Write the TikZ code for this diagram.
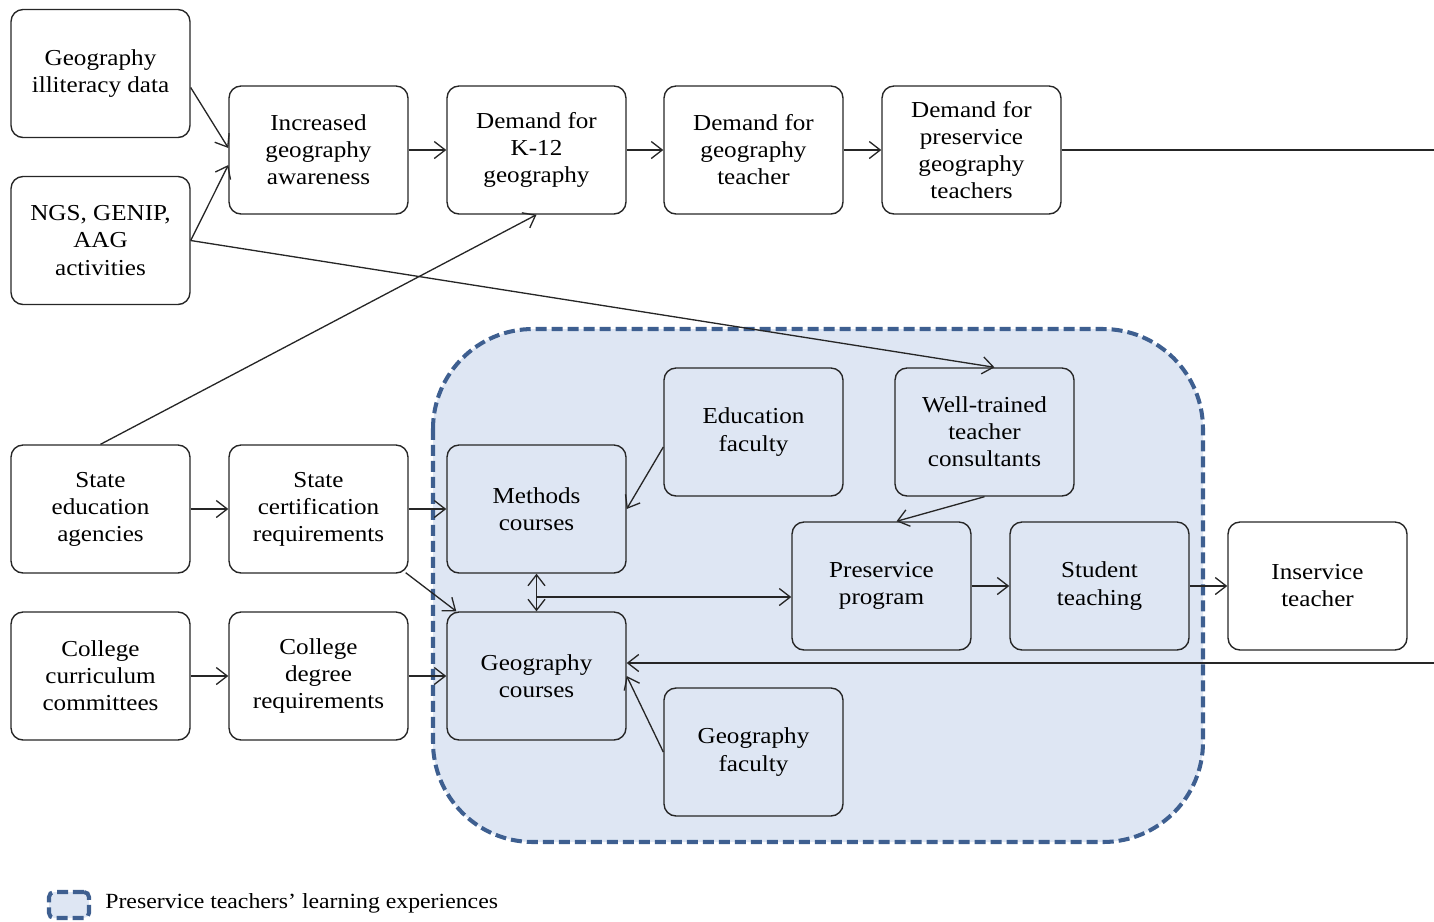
\documentclass[tikz,border=0pt]{standalone}
\usepackage{fontspec}
\setmainfont{Liberation Serif}[FakeStretch=1.1]
\usetikzlibrary{arrows.meta,calc}
\definecolor{regfill}{HTML}{DEE6F3}
\definecolor{regdraw}{HTML}{3E5F90}
\definecolor{ink}{HTML}{262626}
\begin{document}
\begin{tikzpicture}[x=0.02cm,y=-0.02cm,
 box/.style={draw=ink, line width=0.8pt, rounded corners=0.24cm, minimum width=3.58cm, minimum height=2.56cm, align=center, inner sep=2pt, font=\fontsize{13}{15.4}\selectfont},
 arr/.style={-{Straight Barb[length=0.22cm,width=0.34cm]}, line width=0.75pt, draw=ink},
 darr/.style={{Straight Barb[length=0.22cm,width=0.34cm]}-{Straight Barb[length=0.22cm,width=0.34cm]}, line width=0.75pt, draw=ink},
 ln/.style={line width=0.75pt, draw=ink},
 region/.style={draw=regdraw, fill=regfill, line width=2.3pt, dash pattern=on 0.22cm off 0.1cm}]
\useasboundingbox (0,0) rectangle (1434,921);
% region
\draw[region, rounded corners=2cm] (433,329) rectangle (1203,842);
% nodes
\node[box] (gi) at (100.5,73.5) {Geography\\illiteracy data};
\node[box] (ngs) at (100.5,240.5) {NGS, GENIP,\\AAG\\activities};
\node[box] (inc) at (318.5,150) {Increased\\geography\\awareness};
\node[box] (k12) at (536.5,150) {Demand for\\K-12\\geography};
\node[box] (dt) at (753.5,150) {Demand for\\geography\\teacher};
\node[box] (dp) at (971.5,150) {Demand for\\preservice\\geography\\teachers};
\node[box] (ef) at (753.5,432) {Education\\faculty};
\node[box] (wt) at (984.5,432) {Well-trained\\teacher\\consultants};
\node[box] (se) at (100.5,509) {State\\education\\agencies};
\node[box] (sc) at (318.5,509) {State\\certification\\requirements};
\node[box] (mc) at (536.5,509) {Methods\\courses};
\node[box] (pp) at (881.5,586) {Preservice\\program};
\node[box] (st) at (1099.5,586) {Student\\teaching};
\node[box] (it) at (1317.5,586) {Inservice\\teacher};
\node[box] (cc) at (100.5,676) {College\\curriculum\\committees};
\node[box] (cd) at (318.5,676) {College\\degree\\requirements};
\node[box] (gc) at (536.5,676) {Geography\\courses};
\node[box] (gf) at (753.5,752) {Geography\\faculty};
\coordinate (outA) at (1434,150);
\coordinate (outB) at (1434,663);
\coordinate (mid) at (536.5,597);
% connectors
\draw[arr] ($(gi.east)+(0,14)$) -- ($(inc.west)+(0,-2)$);
\draw[arr] (ngs.east) -- ($(inc.west)+(0,15)$);
\draw[arr] (ngs.east) -- ($(wt.north)+(10,0)$);
\draw[arr] (inc.east) -- (k12.west);
\draw[arr] (k12.east) -- (dt.west);
\draw[arr] (dt.east) -- (dp.west);
\draw[ln] (dp.east) -- (outA);
\draw[arr] (se.north) -- (k12.south);
\draw[arr] (se.east) -- (sc.west);
\draw[arr] (sc.east) -- (mc.west);
\draw[arr] ($(sc.south east)+(-3,-1)$) -- ($(gc.north west)+(10,0)$);
\draw[arr] (cc.east) -- (cd.west);
\draw[arr] (cd.east) -- (gc.west);
\draw[arr] ($(ef.west)+(0,15)$) -- (mc.east);
\draw[darr] (mc.south) -- (gc.north);
\draw[arr] (mid) -- ($(pp.west)+(0,11)$);
\draw[arr] (wt.south) -- ($(pp.north)+(15,0)$);
\draw[arr] (pp.east) -- (st.west);
\draw[arr] (st.east) -- (it.west);
\draw[arr] (gf.west) -- (gc.east);
\draw[arr] (outB) -- ($(gc.east)+(0,-13)$);
% legend
\node[region, rounded corners=0.1cm, minimum width=0.8cm, minimum height=0.52cm, inner sep=0pt] (leg) at (69,905) {};
\node[anchor=west, inner sep=0pt, font=\fontsize{12.3}{14}\selectfont] (legt) at (105,903) {Preservice teachers’ learning experiences};
\end{tikzpicture}
\end{document}
